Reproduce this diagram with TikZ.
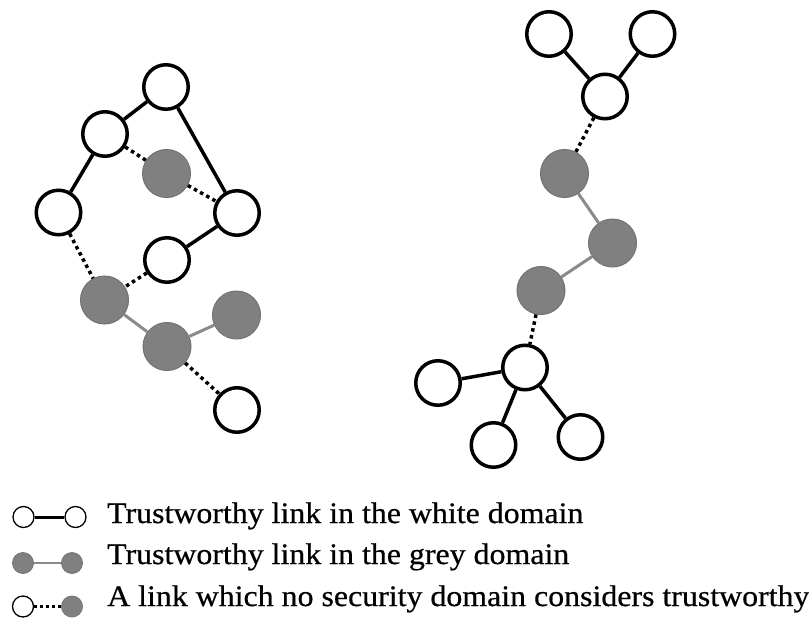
\documentclass[tikz,border=0pt]{standalone}
\usepackage{fontspec}
\setmainfont[FakeStretch=1.07,FakeBold=0.6]{Liberation Serif}
\definecolor{gfill}{HTML}{808080}
\definecolor{gline}{HTML}{8A8A8A}
\definecolor{gborder}{HTML}{727272}
\tikzset{
  wnode/.style={circle,draw=black,fill=white,line width=3.5pt,inner sep=0pt,minimum size=44.5pt},
  gnode/.style={circle,draw=gborder,fill=gfill,line width=1pt,inner sep=0pt,minimum size=48pt},
  wlink/.style={draw=black,line width=3.5pt},
  glink/.style={draw=gline,line width=3pt},
  dlink/.style={draw=black,line width=3.5pt,dash pattern=on 3.5pt off 3.5pt},
  lw/.style={circle,draw=black,fill=white,line width=1.3pt,inner sep=0pt,minimum size=21pt},
  lg/.style={circle,draw=gborder,fill=gfill,line width=0.8pt,inner sep=0pt,minimum size=21pt},
  ltext/.style={anchor=base west,inner sep=0pt,font=\fontsize{29.8pt}{31pt}\selectfont}
}
\begin{document}
\begin{tikzpicture}[x=1pt,y=-1pt]
\useasboundingbox (0,0) rectangle (809,621);
% left graph
\node[wnode] (A) at (166,87) {};
\node[wnode] (B) at (105,134) {};
\node[gnode] (C) at (166.5,173.5) {};
\node[wnode] (D) at (58.5,212.5) {};
\node[wnode] (E) at (237,213) {};
\node[wnode] (F) at (167,260) {};
\node[gnode] (G) at (104.5,300) {};
\node[gnode] (H) at (236.5,315) {};
\node[gnode] (I) at (167,346.5) {};
\node[wnode] (J) at (237,410) {};
% right graph
\node[wnode] (K) at (549,34) {};
\node[wnode] (L) at (652.5,34) {};
\node[wnode] (M) at (605,96.5) {};
\node[gnode] (N) at (564.5,173.5) {};
\node[gnode] (O) at (612.5,243) {};
\node[gnode] (P) at (541,290.5) {};
\node[wnode] (Q) at (525,367.5) {};
\node[wnode] (R) at (438,383) {};
\node[wnode] (S) at (493.5,445) {};
\node[wnode] (T) at (580.5,437) {};
% edges
\path[wlink] (A) -- (B);
\path[wlink] (A) -- (E);
\path[wlink] (B) -- (D);
\path[dlink] (B) -- (C);
\path[dlink] (C) -- (E);
\path[wlink] (E) -- (F);
\path[dlink] (D) -- (G);
\path[dlink] (F) -- (G);
\path[glink] (G) -- (I);
\path[glink] (I) -- (H);
\path[dlink] (I) -- (J);
\path[wlink] (K) -- (M);
\path[wlink] (L) -- (M);
\path[dlink] (M) -- (N);
\path[glink] (N) -- (O);
\path[glink] (O) -- (P);
\path[dlink] (P) -- (Q);
\path[wlink] (Q) -- (R);
\path[wlink] (Q) -- (S);
\path[wlink] (Q) -- (T);
% legend
\node[lw] (la1) at (23.5,517) {};
\node[lw] (la2) at (75.5,517) {};
\path[draw=black,line width=3pt] (la1) -- (la2);
\node[lg] (lb1) at (23,563) {};
\node[lg] (lb2) at (72,563) {};
\path[draw=gline,line width=2.5pt] (lb1) -- (lb2);
\node[lw] (lc1) at (23,606.5) {};
\node[lg] (lc2) at (72,606.5) {};
\path[draw=black,line width=3pt,dash pattern=on 3pt off 3pt] (lc1) -- (lc2);
\node[ltext] (t1) at (107,523) {Trustworthy link in the white domain};
\node[ltext] (t2) at (107,564) {Trustworthy link in the grey domain};
\node[ltext] (t3) at (107,606) {A link which no security domain considers trustworthy};
\end{tikzpicture}
\end{document}
